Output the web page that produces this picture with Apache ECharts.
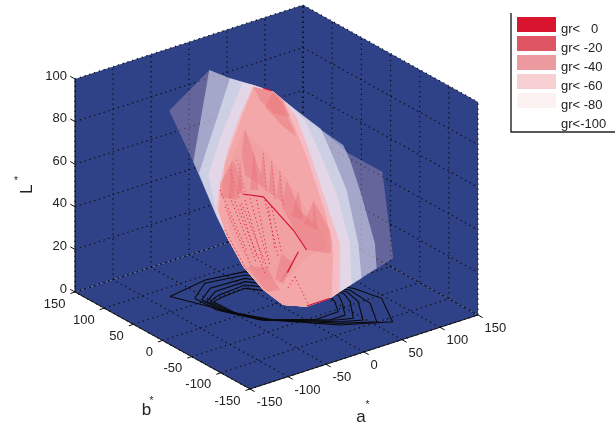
<!DOCTYPE html>
<html><head><meta charset="utf-8">
<style>html,body{margin:0;padding:0;background:#fff}#c{width:616px;height:424px}</style>
<script src="https://cdn.jsdelivr.net/npm/echarts@6/dist/echarts.min.js"></script>
</head><body><div id="c"></div>
<script>
// Axis ticks
const aTicks = [-150,-100,-50,0,50,100,150];
const bTicks = [150,100,50,0,-50,-100,-150];
const lTicks = [0,20,40,60,80,100];

// Floor slices of the gamut, [a*, b*] at L* = 0
const slice1 = [[-78,81],[-24,91],[21.5,82],[86.5,-19],[95,-56.5],[69,-109],[20.5,-82],[-13,-46],[-37,-20],[-57,28]];
const slice2 = [[-60,62],[-29,85],[16.5,75.5],[81,-20],[78,-59],[56,-99],[23,-79],[-12,-45],[-38,-22],[-59.4,25]];
const slice3 = [[-57,54],[-32,72],[11.5,69],[76,-21],[70.6,-48],[47,-87],[25.5,-76],[-35.6,-24],[-56.6,23]];
const slice4 = [[-55,48],[-33,62],[6.6,62.5],[71,-22.5],[64,-43],[41.5,-77.6],[25,-70],[-33,-26],[-54,21]];
const slice5 = [[-52.4,45.6],[-35.5,53],[1.6,56],[64,-22.6],[57,-37.7],[39.6,-66],[19.7,-66],[-31,-29],[-51,13.5]];
const slice6 = [[-49.6,43.5],[-34,47],[-3.4,49.5],[53.5,-25],[51,-33.5],[39,-55],[9.7,-56],[-27,-30],[-48,6]];

// Shell outlines, [signed chroma across the view, L*]
const shell100 = [[-70,109.6],[-112,90.5],[-86.9,66.6],[-62.5,40.8],[-52.1,31.4],[-34.7,17.3],[-13.8,6.3],[7.1,-0.7],[31.5,-1.5],[55.8,2.4],[66.3,5.5],[121.9,21.2],[110.5,61.9],[75,70.5],[48.9,80.7],[24.5,89.3],[7.1,95.5],[-3.3,99.4],[-24.2,102.6],[-48.6,105.7]];
const shell80 = [[-70.2,109.6],[-48.6,105.7],[-24.2,102.6],[-3.3,99.4],[7.1,95.5],[24.5,89.3],[48.9,80.7],[69.7,74.4],[76.7,67.4],[87.1,53.3],[102.8,28.2],[104.5,16.5],[66.3,5.5],[55.8,2.4],[31.5,-1.5],[7.1,-0.7],[-13.8,6.3],[-34.7,17.3],[-52.1,31.4],[-62.5,40.8],[-86.9,66.6]];
const shell60a = [[-48.6,105.7],[-24.2,102.6],[-3.3,99.4],[7.1,95.5],[24.5,89.3],[46.1,82.2],[57.6,70.5],[73.2,53.3],[85.4,28.2],[88.9,11.9],[66.3,5.5],[55.8,2.4],[31.5,-1.5],[7.1,-0.7],[-13.8,6.3],[-34.7,17.3],[-52.1,31.4],[-62.5,40.8],[-81,61.1]];
const shell60b = [[-35.7,103.7],[-24.2,102.6],[-3.3,99.4],[7.1,95.5],[29.7,86.1],[45.4,70.5],[62.8,51.7],[76.7,28.2],[78.4,9],[66.3,5.5],[55.8,2.4],[31.5,-1.5],[7.1,-0.7],[-13.8,6.3],[-34.7,17.3],[-52.1,31.4],[-62.5,42.3],[-71.2,60.3],[-59,77.5]];
const shell40a = [[-24.2,102.1],[-3.3,99.4],[7.1,95.5],[21,87.7],[34.9,70.5],[55.8,42.3],[66.3,28.2],[66.3,5.5],[55.8,2.4],[31.5,-1.5],[7.1,-0.7],[-13.8,6.3],[-34.7,17.3],[-52.1,31.4],[-62.5,44.7],[-60.8,51.7],[-57.3,60.3],[-50.3,72.8],[-38.1,88.5]];
const shell40b = [[-24.2,101.5],[-3.3,99.4],[5.4,95.5],[17.5,84.6],[31.5,68.9],[52.3,40.8],[59.3,23.5],[57.6,3.2],[31.5,-1.5],[7.1,-0.7],[-13.8,6.3],[-34.7,17.3],[-52.1,31.4],[-60.8,43.9],[-57.3,53.3],[-53.8,65.8],[-45.1,76.7],[-36.4,87.7]];
const core40 = [[-57.3,56.4],[-34.7,81.4],[-13.8,72.1],[14.1,56.4],[55.8,26.7],[31.5,22],[14.1,12.6],[-13.8,11],[-31.2,18.8],[-48.6,34.5]];
const facets20 = [
  [[-24.2,101.8],[-3.3,99.4],[7.1,95.5],[14.1,87.7],[-3.3,89.3],[-17.3,95.5]],
  [[-3.3,99.4],[5.4,94],[21,78.3],[7.1,83],[-12,92.4]],
  [[-32.9,82.2],[-15.5,59.5],[-17.3,55.6],[-32.9,60.3],[-36.4,70.5]],
  [[10.6,58],[24.5,43.9],[41.9,36],[57.6,26.7],[55.8,23.5],[31.5,25.1],[24.5,29.8],[5.4,45.4]],
  [[-59,56.4],[-45.1,67.4],[-34.7,54.8],[-41.6,48.6],[-59,50.1]],
  [[-31.2,17.3],[-10.3,17.3],[3.6,6.3],[-10.3,5.5]],
  [[-13.8,72],[-9.6,52.5],[-17.3,55.6]],
  [[-5.1,67.4],[0.1,49.4],[-8.6,52.5]],
  [[3.6,62.7],[7.8,46.2],[0.1,50.1]],
  [[22.8,24.3],[7.1,11],[1.9,9.4]],
  [[38.4,48.6],[55.8,34.5],[58.6,26.7],[38.4,37.6]],
  [[-50.3,50.1],[-46.8,67.4],[-43.4,50.1]],
  [[-40.9,51.7],[-38.1,68.9],[-34.7,51.7]],
  [[-27.7,53.3],[-23.5,72],[-19,53.3]],
  [[15.8,40.8],[22.8,53.3],[28,39.2]],
  [[28,37.6],[38.4,47.8],[43.6,34.5]],
  [[5.4,23.5],[17.5,18.8],[7.1,9.4],[-1.6,11]]
];
const hatch20 = [
  [[-48.6,62.7],[-38.1,48.6]],[[-41.6,67.4],[-31.2,50.1]],[[-13.8,70.5],[-10.3,51.7]],
  [[-5.1,66.6],[-1.6,48.6]],[[3.6,61.9],[7.1,45.4]]
];
const redSolid = [
  [[-35.4,51.4],[-13.8,50.1],[17.5,34.5],[31.5,25.1]],
  [[22.8,24.3],[11.3,14.5]],
  [[31.5,-1.2],[55.8,2.4]],
  [[-13.8,101],[-5.1,99.9]]
];
const redDotted = [
  [[-43.4,47.8],[-12,14.1]],[[-36.4,47],[-8.6,15.7]],[[-27.7,49.4],[-10.3,22]],
  [[-12,48.6],[1.9,22]],[[-5.1,45.4],[5.4,23.5]],[[19.3,12.6],[33.2,-0.7]],
  [[19.3,12.6],[10.6,6.3]],[[-53.8,45.4],[-26,17.3]],[[-59,53.3],[-31.2,25.1]],
  [[-48.6,50.1],[-20.7,18.8]],[[-53.8,34.5],[-31.2,15.7]],
  [[-38.1,46.2],[-20.7,22]],[[-32.9,48.6],[-13.8,18.8]],[[-20.7,48.6],[-6.8,17.3]],
  [[-8.6,45.4],[-1.6,25.1]]
];
const legendNames = ['gr<   0','gr< -20','gr< -40','gr< -60','gr< -80','gr<-100'];
const legendColors = ['#d8142f','#e05563','#ec9aa0','#f5cfd2','#fdf2f2','#ffffff'];

// Orthographic view of the (a*, b*, L*) box onto the hidden view axes
const vx = (a,b,L) => 250 + (a+150)/300*228 - (b+150)/300*175;
const vy = (a,b,L) => 389 - (a+150)/300*74 - (b+150)/300*97 - L*2.13;
const at = (api,a,b,L) => api.coord([vx(a,b,L), vy(a,b,L)]);
const plane = (api,p) => at(api, 0.795*p[0], -0.606*p[0], p[1]);

const poly = (pts,fill) => ({type:'polygon',shape:{points:pts},style:{fill:fill,stroke:null}});
const line = (pts,stroke,w,dash) => ({type:'polyline',shape:{points:pts},style:{fill:null,stroke:stroke,lineWidth:w,lineDash:dash||null}});
const label = (p,dx,dy,text,align,size) => ({type:'text',style:{text:String(text),x:p[0]+dx,y:p[1]+dy,fill:'#222',align:align,verticalAlign:'middle',font:(size||13)+'px "Liberation Sans"'}});

function renderFrame(params, api) {
  const k = [];
  const blue = '#2f4288';
  const aMin=aTicks[0], aMax=aTicks[6], bMin=bTicks[6], bMax=bTicks[0], lMin=lTicks[0], lMax=lTicks[5];
  k.push(poly([at(api,aMin,bMax,lMin),at(api,aMax,bMax,lMin),at(api,aMax,bMax,lMax),at(api,aMin,bMax,lMax)],blue));
  k.push(poly([at(api,aMax,bMax,lMin),at(api,aMax,bMin,lMin),at(api,aMax,bMin,lMax),at(api,aMax,bMax,lMax)],blue));
  k.push(poly([at(api,aMin,bMin,lMin),at(api,aMax,bMin,lMin),at(api,aMax,bMax,lMin),at(api,aMin,bMax,lMin)],blue));
  const dot=[1.3,3.7], gc='#0c0c0c';
  aTicks.forEach(a=>{
    k.push(line([at(api,a,bMin,lMin),at(api,a,bMax,lMin),at(api,a,bMax,lMax)],gc,1.2,dot));
  });
  bTicks.forEach(b=>{
    k.push(line([at(api,aMin,b,lMin),at(api,aMax,b,lMin),at(api,aMax,b,lMax)],gc,1.2,dot));
  });
  lTicks.forEach(L=>{
    k.push(line([at(api,aMin,bMax,L),at(api,aMax,bMax,L),at(api,aMax,bMin,L)],gc,1.2,dot));
  });
  [slice1,slice2,slice3,slice4,slice5,slice6].forEach(s=>{
    const pts=s.map(p=>at(api,p[0],p[1],0)); pts.push(pts[0]);
    k.push(line(pts,'#0a0a0a',1.1));
  });
  // axis lines
  k.push(line([at(api,aMin,bMax,lMax),at(api,aMin,bMax,lMin),at(api,aMin,bMin,lMin),at(api,aMax,bMin,lMin)],'#111',1));
  // ticks + labels
  aTicks.forEach(a=>{
    const p=at(api,a,bMin,0);
    k.push(line([p,at(api,a,bMin-8,0)],'#111',1));
    k.push(label(p,6.5,13.5,a,'left'));
  });
  bTicks.forEach(b=>{
    const p=at(api,aMin,b,0);
    k.push(line([p,at(api,aMin-6,b,0)],'#111',1));
    k.push(label(p,-9.5,12,b,'right'));
  });
  lTicks.forEach(L=>{
    const p=at(api,aMin,bMax,L);
    k.push(line([p,at(api,aMin,bMax+8,L)],'#111',1));
    k.push(label(p,-8,-3,L,'right'));
  });
  // axis titles
  const ta=at(api,aTicks[3],bMin,0), tb=at(api,aMin,bTicks[3],0), tl=at(api,aMin,bMax,lTicks[3]);
  k.push(label(ta,-3,65,'a','center',17)); k.push(label(ta,3.5,53,'*','center',10));
  k.push(label(tb,-16,70,'b','center',17)); k.push(label(tb,-11,61,'*','center',10));
  k.push({type:'text',rotation:Math.PI/2,x:tl[0]-48,y:tl[1]+25,style:{text:'L',x:0,y:0,fill:'#222',align:'center',verticalAlign:'middle',font:'17px "Liberation Sans"'}});
  k.push(label(tl,-59,17,'*','center',10));
  return {type:'group',children:k};
}
const shellSeries = (i,layers,extra) => ({
  type:'custom',name:legendNames[i],coordinateSystem:'cartesian2d',data:[[0,0]],silent:true,
  itemStyle:{color:legendColors[i]},
  renderItem:(p,api)=>({type:'group',children:layers.map(l=>poly(l[0].map(q=>plane(api,q)),l[1])).concat(
    (extra||[]).map(l=>line(l.map(q=>plane(api,q)),'#e4606c',1,[1.3,2.7])))})
});
const chart = echarts.init(document.getElementById('c'),null,{renderer:'canvas'});
chart.setOption({
  animation:false,
  backgroundColor:'#fff',
  grid:{left:0,right:0,top:0,bottom:0},
  xAxis:{type:'value',min:0,max:616,show:false},
  yAxis:{type:'value',min:0,max:424,inverse:true,show:false},
  legend:{
    data:legendNames,orient:'vertical',left:517,top:17,padding:0,itemWidth:39,itemHeight:24,itemGap:-5,
    icon:'path://M0 0H39V15H0Z M0 24L39 24',selectedMode:false,
    textStyle:{fontFamily:'Liberation Sans',fontSize:13,color:'#222'}
  },
  graphic:[{type:'polyline',shape:{points:[[511,13],[511,132],[615,132]]},style:{fill:null,stroke:'#222',lineWidth:1.4},silent:true}],
  series:[
    {type:'custom',name:'frame',coordinateSystem:'cartesian2d',data:[[0,0]],silent:true,renderItem:renderFrame},
    shellSeries(5,[[shell100,'rgba(201,166,190,.35)']]),
    shellSeries(4,[[shell80,'rgba(229,233,249,.5)']]),
    shellSeries(3,[[shell60a,'rgba(245,247,254,.5)'],[shell60b,'#e3d6e6']]),
    shellSeries(2,[[shell40a,'#f5bcc4'],[shell40b,'#f4a7a8'],[core40,'rgba(236,130,135,.14)']]),
    shellSeries(1,facets20.map(f=>[f,'rgba(232,110,115,.38)']),hatch20),
    {type:'custom',name:legendNames[0],coordinateSystem:'cartesian2d',data:[[0,0]],silent:true,
     itemStyle:{color:legendColors[0]},
     renderItem:(p,api)=>({type:'group',children:[
       ...redDotted.map(l=>line(l.map(q=>plane(api,q)),'#e0243c',1,[1.2,2.8])),
       ...redSolid.map(l=>line(l.map(q=>plane(api,q)),'#d8142f',1.2))
     ]})}
  ]
});
</script></body></html>
